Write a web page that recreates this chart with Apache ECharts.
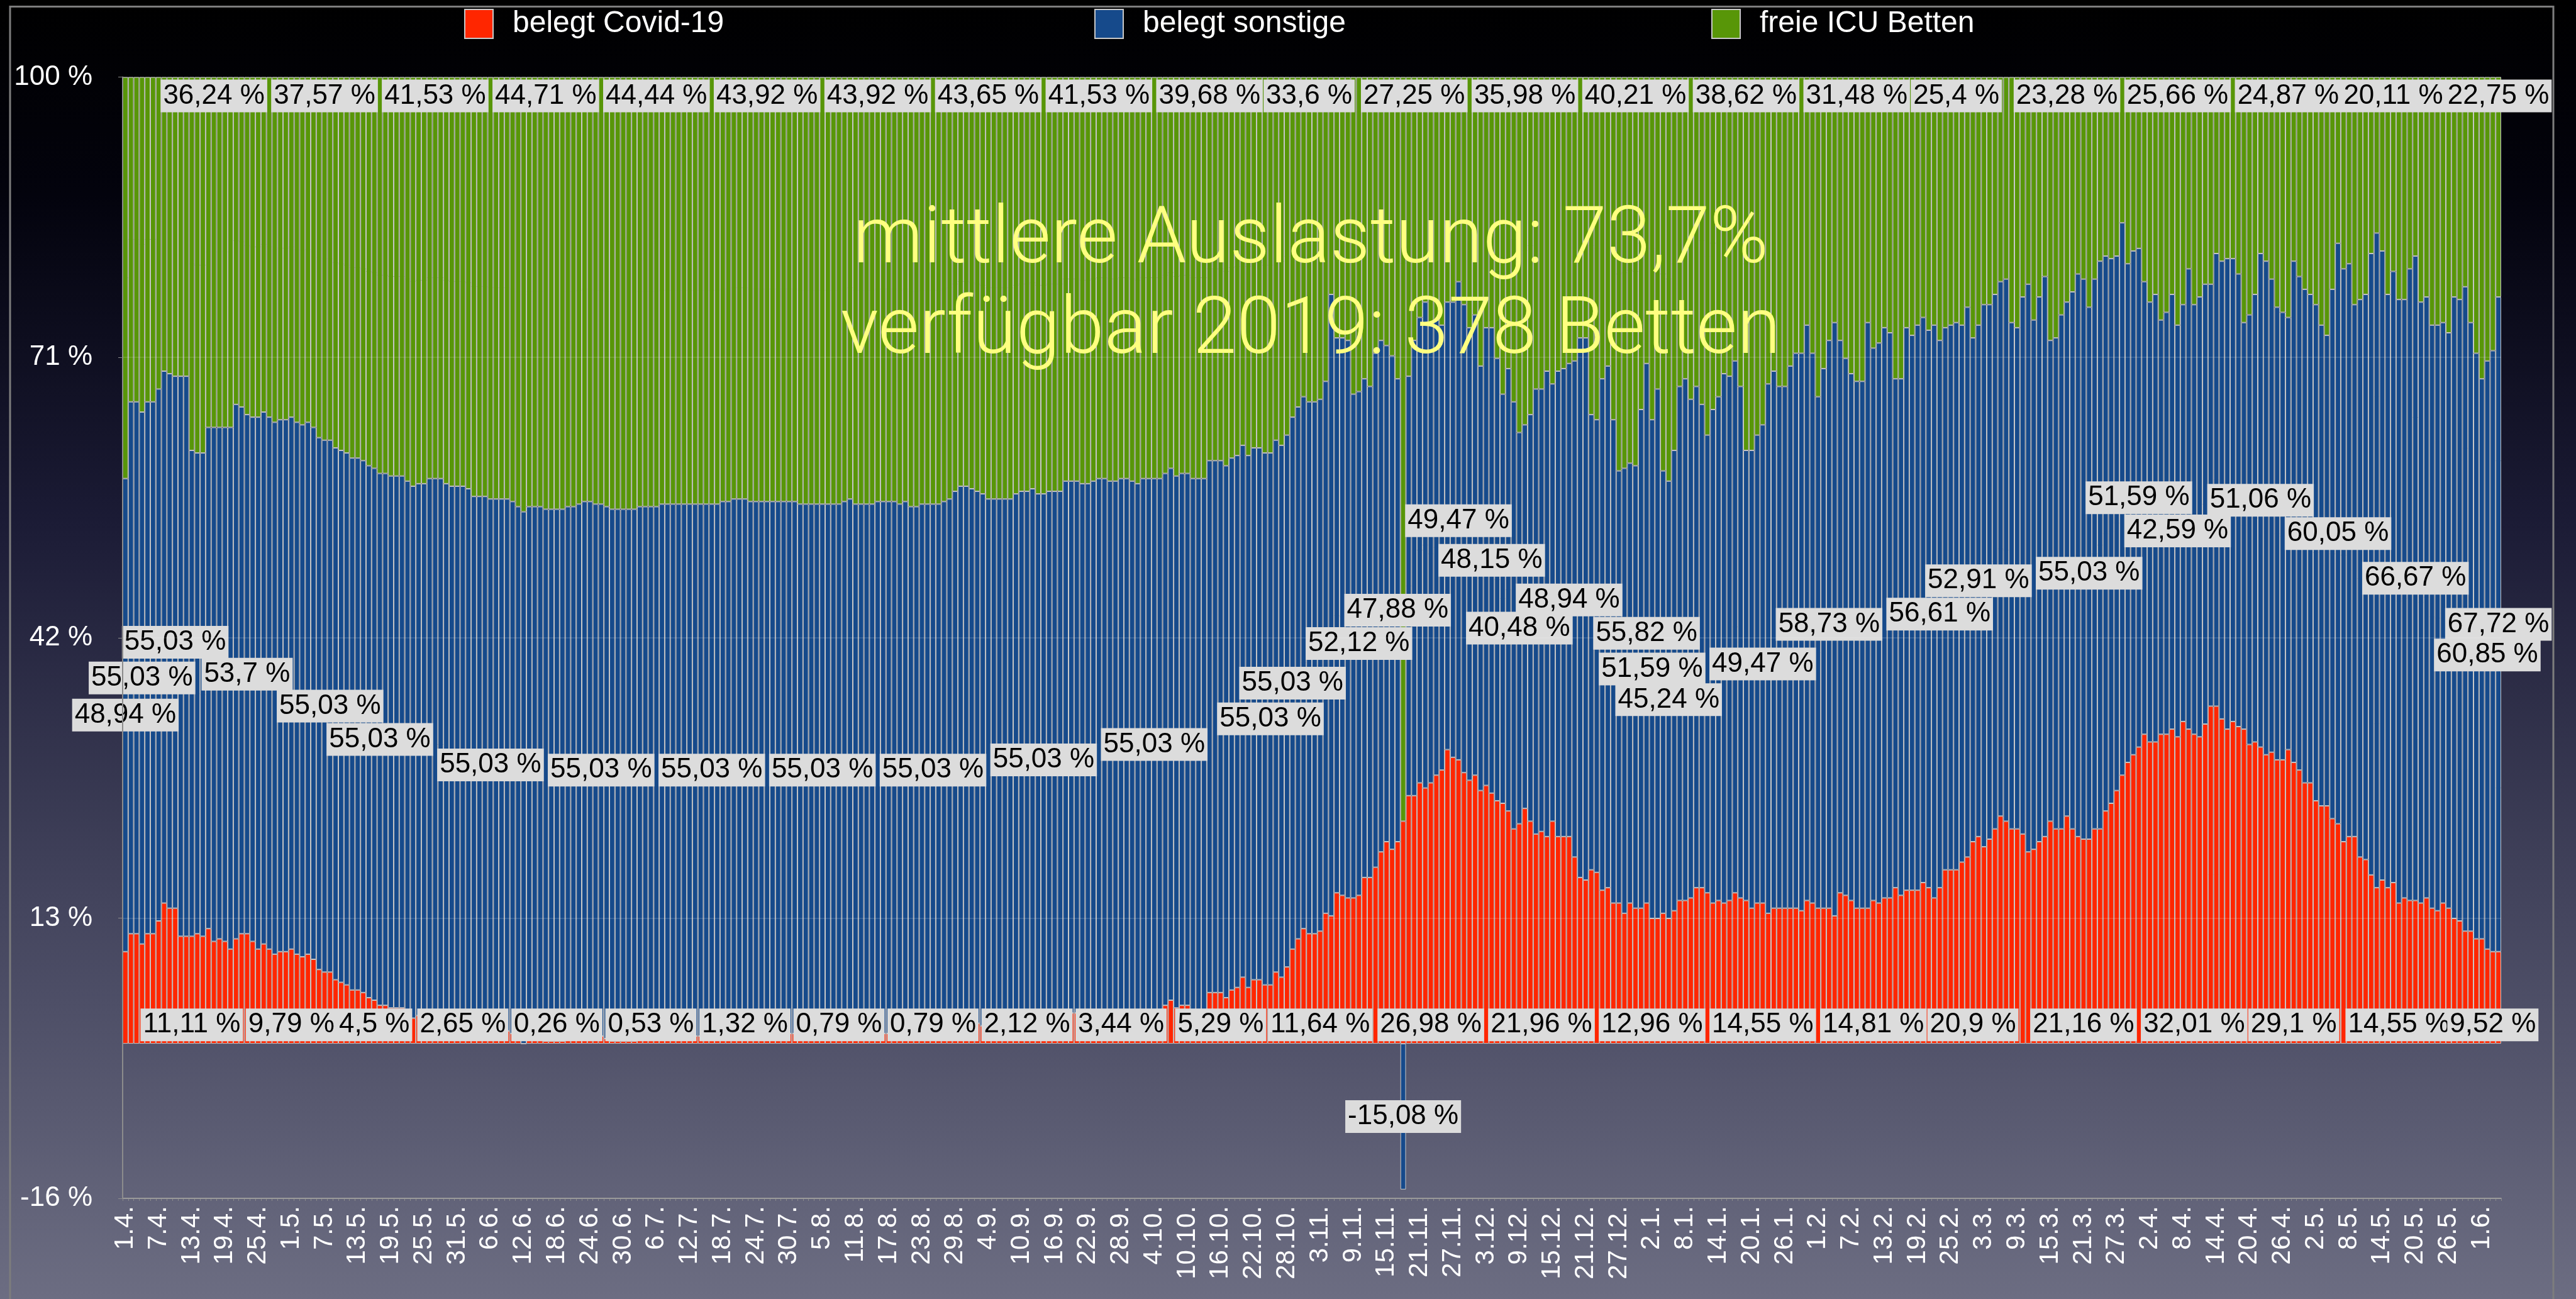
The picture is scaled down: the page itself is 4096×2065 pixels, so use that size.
<!DOCTYPE html>
<html>
<head>
<meta charset="utf-8">
<title>Intensivbetten Auslastung</title>
<script src="https://cdn.jsdelivr.net/npm/echarts@6/dist/echarts.min.js"></script>
<style>
html, body { margin: 0; padding: 0; background: #000; }
#chart { width: 4096px; height: 2065px; }
</style>
</head>
<body>
<div id="chart"></div>
<script>
// Betten (Anzahl) pro Tag ab 1.4.2020, Kapazitaet 378
var capacity = 378;

var covidBeds = [
  36, 43, 43, 39, 43, 43, 48, 55, 53, 53,
  42, 42, 42, 43, 42, 45, 40, 41, 40, 37,
  41, 43, 43, 40, 37, 39, 37, 35, 36, 36,
  37, 35, 34, 35, 33, 29, 28, 28, 25, 24,
  23, 21, 21, 20, 18, 17, 15, 15, 14, 14,
  14, 12, 10, 11, 11, 13, 13, 13, 11, 10,
  10, 10, 9, 6, 6, 6, 5, 5, 5, 5,
  4, 2, 0, 2, 2, 2, 1, 1, 1, 1,
  2, 2, 3, 4, 4, 3, 3, 2, 1, 1,
  1, 1, 1, 2, 2, 2, 2, 3, 3, 3,
  3, 3, 3, 3, 3, 3, 3, 3, 4, 4,
  5, 5, 5, 4, 4, 4, 4, 4, 4, 4,
  4, 4, 3, 3, 3, 3, 3, 3, 3, 3,
  4, 5, 3, 3, 3, 3, 4, 4, 4, 4,
  3, 4, 2, 2, 3, 3, 3, 3, 4, 5,
  8, 10, 10, 9, 8, 7, 5, 5, 5, 5,
  5, 7, 8, 8, 9, 7, 7, 8, 8, 8,
  12, 12, 12, 11, 11, 12, 13, 13, 12, 12,
  13, 13, 12, 11, 13, 13, 13, 13, 15, 17,
  14, 15, 15, 13, 13, 13, 20, 20, 20, 18,
  21, 22, 26, 22, 25, 25, 23, 23, 28, 26,
  30, 37, 41, 45, 43, 43, 44, 51, 50, 59,
  58, 57, 57, 58, 65, 65, 69, 75, 79, 76,
  79, 87, 97, 97, 102, 100, 102, 105, 107, 115,
  112, 111, 106, 103, 105, 99, 101, 98, 95, 94,
  91, 84, 86, 92, 87, 82, 83, 81, 87, 81,
  81, 81, 73, 65, 64, 68, 67, 60, 61, 55,
  55, 51, 55, 53, 53, 55, 49, 49, 51, 49,
  52, 56, 56, 57, 61, 61, 59, 55, 56, 55,
  56, 59, 57, 56, 53, 55, 55, 51, 53, 53,
  53, 53, 53, 52, 56, 55, 53, 53, 53, 50,
  59, 58, 56, 53, 53, 53, 56, 55, 57, 57,
  61, 58, 60, 60, 60, 63, 61, 57, 61, 68,
  68, 68, 71, 73, 79, 81, 77, 80, 84, 89,
  87, 84, 84, 82, 75, 76, 79, 81, 87, 84,
  84, 89, 84, 81, 80, 80, 84, 84, 91, 94,
  99, 105, 110, 113, 116, 121, 118, 118, 121, 121,
  123, 120, 126, 123, 121, 120, 125, 132, 132, 127,
  123, 126, 124, 123, 117, 118, 116, 113, 114, 111,
  111, 115, 110, 107, 102, 102, 95, 93, 93, 88,
  86, 79, 81, 81, 73, 72, 66, 61, 64, 61,
  63, 55, 57, 56, 56, 55, 57, 53, 52, 55,
  53, 49, 48, 44, 44, 41, 41, 37, 36, 36
];

var otherBeds = [
  185, 208, 208, 208, 208, 208, 208, 208, 209, 208,
  219, 219, 190, 188, 189, 196, 201, 200, 201, 204,
  209, 206, 203, 205, 208, 208, 208, 208, 208, 208,
  208, 208, 208, 208, 208, 208, 208, 208, 208, 208,
  208, 208, 208, 208, 208, 208, 208, 208, 208, 208,
  208, 208, 208, 208, 208, 208, 208, 208, 208, 208,
  208, 208, 208, 208, 208, 208, 208, 208, 208, 208,
  208, 208, 208, 208, 208, 208, 208, 208, 208, 208,
  208, 208, 208, 208, 208, 208, 208, 208, 208, 208,
  208, 208, 208, 208, 208, 208, 208, 208, 208, 208,
  208, 208, 208, 208, 208, 208, 208, 208, 208, 208,
  208, 208, 208, 208, 208, 208, 208, 208, 208, 208,
  208, 208, 208, 208, 208, 208, 208, 208, 208, 208,
  208, 208, 208, 208, 208, 208, 208, 208, 208, 208,
  208, 208, 208, 208, 208, 208, 208, 208, 208, 208,
  208, 208, 208, 208, 208, 208, 208, 208, 208, 208,
  208, 208, 208, 208, 208, 208, 208, 208, 208, 208,
  208, 208, 208, 208, 208, 208, 208, 208, 208, 208,
  208, 208, 208, 208, 208, 208, 208, 208, 208, 208,
  208, 208, 208, 208, 208, 208, 208, 208, 208, 208,
  208, 208, 208, 208, 208, 208, 208, 208, 208, 208,
  208, 208, 208, 208, 208, 208, 208, 208, 243, 217,
  218, 218, 197, 197, 195, 192, 201, 200, 194, 193,
  181, -57, 164, 178, 182, 190, 179, 178, 174, 175,
  178, 187, 183, 177, 180, 166, 179, 182, 173, 160,
  173, 167, 153, 150, 159, 174, 173, 182, 171, 182,
  183, 185, 194, 211, 212, 178, 177, 200, 204, 189,
  169, 174, 172, 173, 195, 211, 195, 207, 173, 171,
  180, 201, 204, 195, 196, 189, 179, 193, 197, 207,
  205, 208, 200, 176, 179, 183, 187, 207, 210, 204,
  204, 212, 217, 218, 225, 215, 200, 211, 222, 232,
  216, 210, 206, 206, 206, 229, 216, 219, 223, 221,
  199, 202, 220, 217, 221, 221, 218, 224, 214, 212,
  213, 214, 210, 215, 197, 200, 212, 209, 209, 209,
  212, 198, 196, 210, 222, 207, 213, 219, 188, 192,
  201, 201, 210, 220, 219, 208, 215, 222, 217, 213,
  209, 216, 195, 197, 195, 177, 172, 175, 162, 165,
  170, 161, 163, 180, 168, 172, 172, 165, 177, 179,
  184, 181, 177, 159, 168, 175, 193, 193, 185, 177,
  175, 169, 196, 193, 193, 191, 194, 188, 184, 207,
  227, 224, 224, 208, 218, 221, 243, 256, 246, 232,
  239, 236, 234, 247, 252, 235, 235, 228, 229, 227,
  225, 243, 243, 252, 238, 229, 219, 230, 235, 256
];

var freeBeds = [
  157, 127, 127, 131, 127, 127, 122, 115, 116, 117,
  117, 117, 146, 147, 147, 137, 137, 137, 137, 137,
  128, 129, 132, 133, 133, 131, 133, 135, 134, 134,
  133, 135, 136, 135, 137, 141, 142, 142, 145, 146,
  147, 149, 149, 150, 152, 153, 155, 155, 156, 156,
  156, 158, 160, 159, 159, 157, 157, 157, 159, 160,
  160, 160, 161, 164, 164, 164, 165, 165, 165, 165,
  166, 168, 170, 168, 168, 168, 169, 169, 169, 169,
  168, 168, 167, 166, 166, 167, 167, 168, 169, 169,
  169, 169, 169, 168, 168, 168, 168, 167, 167, 167,
  167, 167, 167, 167, 167, 167, 167, 167, 166, 166,
  165, 165, 165, 166, 166, 166, 166, 166, 166, 166,
  166, 166, 167, 167, 167, 167, 167, 167, 167, 167,
  166, 165, 167, 167, 167, 167, 166, 166, 166, 166,
  167, 166, 168, 168, 167, 167, 167, 167, 166, 165,
  162, 160, 160, 161, 162, 163, 165, 165, 165, 165,
  165, 163, 162, 162, 161, 163, 163, 162, 162, 162,
  158, 158, 158, 159, 159, 158, 157, 157, 158, 158,
  157, 157, 158, 159, 157, 157, 157, 157, 155, 153,
  156, 155, 155, 157, 157, 157, 150, 150, 150, 152,
  149, 148, 144, 148, 145, 145, 147, 147, 142, 144,
  140, 133, 129, 125, 127, 127, 126, 119, 85, 102,
  102, 103, 124, 123, 118, 121, 108, 103, 105, 109,
  118, 291, 117, 103, 94, 88, 97, 95, 97, 88,
  88, 80, 89, 98, 93, 113, 98, 98, 110, 124,
  114, 127, 139, 136, 132, 122, 122, 115, 120, 115,
  114, 112, 111, 102, 102, 132, 134, 118, 113, 134,
  154, 153, 151, 152, 130, 112, 134, 122, 154, 158,
  146, 121, 118, 126, 121, 128, 140, 130, 125, 116,
  117, 111, 121, 146, 146, 140, 136, 120, 115, 121,
  121, 113, 108, 108, 97, 108, 125, 114, 103, 96,
  103, 110, 116, 119, 119, 96, 106, 104, 98, 100,
  118, 118, 98, 101, 97, 94, 99, 97, 103, 98,
  97, 96, 97, 90, 102, 97, 89, 89, 85, 80,
  79, 96, 98, 86, 81, 95, 86, 78, 103, 102,
  93, 88, 84, 77, 79, 90, 79, 72, 70, 71,
  70, 57, 73, 68, 67, 80, 88, 85, 95, 92,
  85, 97, 89, 75, 89, 86, 81, 81, 69, 72,
  71, 71, 77, 96, 93, 85, 69, 72, 79, 90,
  92, 94, 72, 78, 83, 85, 89, 97, 101, 83,
  65, 75, 73, 89, 87, 85, 69, 61, 68, 85,
  76, 87, 87, 75, 70, 88, 86, 97, 97, 96,
  100, 86, 87, 82, 96, 108, 118, 111, 107, 86
];

// Tage, an denen der Wert beschriftet ist
var redLabelAt = [12, 30, 45, 61, 78, 95, 112, 129, 146, 163, 180, 198, 216, 236, 256, 276, 296, 316, 334, 354, 374, 392, 411, 428];
var blueLabelAt = [0, 3, 9, 22, 37, 46, 66, 86, 106, 126, 146, 166, 186, 207, 211, 223, 230, 231, 241, 247, 252, 261, 275, 276, 279, 296, 308, 328, 335, 355, 364, 371, 386, 400, 414, 427, 429];
var greenLabelAt = [16, 36, 56, 76, 96, 116, 136, 156, 176, 196, 214, 233, 253, 273, 293, 313, 331, 351, 371, 391, 410, 429];

var days = [];
for (var i = 0; i < covidBeds.length; i++) {
    var d = new Date(2020, 3, 1 + i);
    days.push(d.getDate() + '.' + (d.getMonth() + 1) + '.');
}

function pct(b) {
    return b * 100 / capacity;
}
function fmt(v) {
    return String(Math.round(v * 100) / 100).replace('.', ',') + ' %';
}
function buildData(beds, labelAt) {
    return beds.map(function (b, i) {
        var v = pct(b);
        return labelAt.indexOf(i) >= 0 ? { value: v, label: { show: true } } : v;
    });
}

var font = 'Liberation Sans';
function valueLabel(position) {
    return {
        show: false,
        position: position,
        distance: 4,
        color: '#000',
        fontFamily: font,
        fontSize: 44,
        lineHeight: 46,
        backgroundColor: '#dcdcdc',
        padding: [3, 4, 3, 4],
        formatter: function (p) { return fmt(p.value); }
    };
}
var barBorder = { borderColor: '#c8c8c8', borderWidth: 1 };

function legendFor(name, left) {
    return {
        data: [name],
        left: left,
        top: 14,
        padding: 0,
        icon: 'rect',
        itemWidth: 45,
        itemHeight: 46,
        selectedMode: false,
        textStyle: { color: '#fff', fontSize: 48, fontFamily: font, padding: [0, 0, 0, 26] }
    };
}

var titleStyle = { fill: '#ffff80', fontSize: 126, fontFamily: 'Roboto', fontWeight: 300, align: 'center', verticalAlign: 'middle' };

var chart = echarts.init(document.getElementById('chart'));
var option = {
    animation: false,
    backgroundColor: {
        type: 'linear', x: 0, y: 0, x2: 0, y2: 1,
        colorStops: [
            { offset: 0, color: '#000000' },
            { offset: 0.15, color: '#03030d' },
            { offset: 0.4, color: '#1b1b35' },
            { offset: 0.7, color: '#44455e' },
            { offset: 1, color: '#6c6d82' }
        ]
    },
    legend: [
        legendFor('belegt Covid-19', 738),
        legendFor('belegt sonstige', 1740),
        legendFor('freie ICU Betten', 2721)
    ],
    grid: { left: 195, right: 119, top: 122.5, bottom: 160 },
    xAxis: {
        type: 'category',
        data: days,
        axisLine: { onZero: false, lineStyle: { color: '#8c8c8c', width: 2 } },
        axisTick: { show: true, interval: 0, length: 4, lineStyle: { color: '#8c8c8c' } },
        axisLabel: { interval: 5, rotate: 90, color: '#fff', fontSize: 42, fontFamily: font, margin: 12 },
        splitLine: { show: false }
    },
    yAxis: {
        type: 'value',
        min: -16,
        max: 100,
        interval: 29,
        z: 3,
        axisLine: { show: true, lineStyle: { color: '#8c8c8c', width: 2 } },
        axisTick: { show: true, length: 7, lineStyle: { color: '#8c8c8c' } },
        axisLabel: { color: '#fff', fontSize: 44, fontFamily: font, margin: 48, formatter: '{value} %' },
        splitLine: { show: true, lineStyle: { color: 'rgba(255,255,255,0.13)', width: 2 } }
    },
    series: [
        {
            name: 'belegt Covid-19', type: 'bar', stack: 'icu', barCategoryGap: '0%',
            itemStyle: Object.assign({ color: '#ff2600' }, barBorder),
            label: valueLabel('insideBottom'),
            data: buildData(covidBeds, redLabelAt)
        },
        {
            name: 'belegt sonstige', type: 'bar', stack: 'icu', barCategoryGap: '0%',
            itemStyle: Object.assign({ color: '#164a8b' }, barBorder),
            label: valueLabel('inside'),
            data: buildData(otherBeds, blueLabelAt)
        },
        {
            name: 'freie ICU Betten', type: 'bar', stack: 'icu', barCategoryGap: '0%',
            itemStyle: Object.assign({ color: '#589608' }, barBorder),
            label: valueLabel('insideTop'),
            data: buildData(freeBeds, greenLabelAt)
        }
    ],
    graphic: [
        {
            type: 'text', x: 2084, y: 385, z: 100, silent: true,
            style: Object.assign({ text: 'mittlere Auslastung: 73,7%' }, titleStyle)
        },
        {
            type: 'text', x: 2084, y: 529, z: 100, silent: true,
            style: Object.assign({ text: 'verfügbar 2019: 378 Betten' }, titleStyle)
        },
        {
            type: 'rect', z: 100, silent: true,
            shape: { x: 16, y: 10.5, width: 4044, height: 2100 },
            style: { fill: 'transparent', stroke: '#7d7d7d', lineWidth: 3 }
        }
    ]
};
chart.setOption(option);
</script>
</body>
</html>
